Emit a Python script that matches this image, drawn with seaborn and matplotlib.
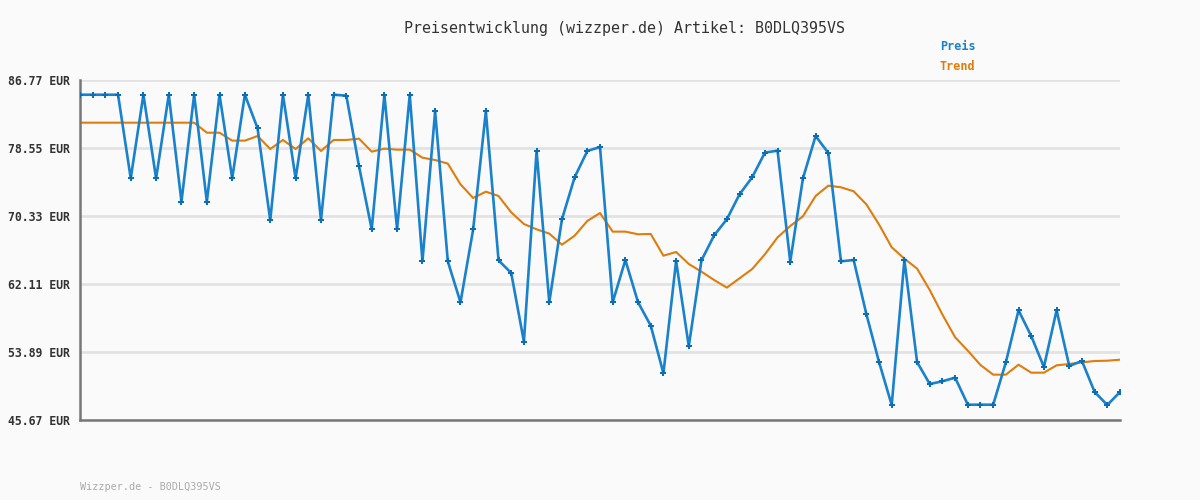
import matplotlib
matplotlib.use("Agg")
import matplotlib.pyplot as plt
import seaborn as sns
import pandas as pd
import numpy as np

title = "Preisentwicklung (wizzper.de) Artikel: B0DLQ395VS"
footer = "Wizzper.de - B0DLQ395VS"
ytick_values = [45.67, 53.89, 62.11, 70.33, 78.55, 86.77]
ytick_labels = ["45.67 EUR", "53.89 EUR", "62.11 EUR", "70.33 EUR", "78.55 EUR", "86.77 EUR"]

preis = [84.99, 84.99, 84.99, 84.99, 74.88, 84.99, 74.88, 84.99, 72.06, 84.99,
         72.06, 84.99, 74.88, 84.99, 80.93, 69.81, 84.99, 74.88, 84.99, 69.81,
         84.99, 84.88, 76.33, 68.72, 84.99, 68.72, 84.99, 64.85, 82.98, 64.85,
         59.90, 68.72, 82.98, 64.97, 63.44, 55.14, 78.19, 59.90, 69.93, 75.01,
         78.19, 78.67, 59.90, 65.01, 59.90, 57.08, 51.32, 64.89, 54.58, 64.97,
         67.99, 69.93, 72.95, 75.01, 77.99, 78.23, 64.81, 74.88, 80.00, 77.95,
         64.85, 65.01, 58.48, 52.68, 47.48, 65.01, 52.68, 50.02, 50.35, 50.79,
         47.52, 47.52, 47.52, 52.64, 58.93, 55.82, 52.08, 58.93, 52.20, 52.80,
         49.06, 47.48, 49.06]

trend = [81.61, 81.61, 81.61, 81.61, 81.61, 81.61, 81.61, 81.61, 81.61, 81.61,
         80.40, 80.40, 79.44, 79.44, 80.00, 78.43, 79.52, 78.43, 79.72, 78.19,
         79.52, 79.52, 79.68, 78.11, 78.47, 78.35, 78.35, 77.38, 77.10, 76.66,
         74.16, 72.51, 73.27, 72.75, 70.77, 69.36, 68.72, 68.20, 66.86, 67.95,
         69.73, 70.69, 68.44, 68.44, 68.12, 68.16, 65.53, 65.98, 64.53, 63.60,
         62.59, 61.67, 62.80, 63.92, 65.70, 67.75, 69.12, 70.29, 72.75, 74.00,
         73.80, 73.32, 71.74, 69.30, 66.55, 65.17, 63.97, 61.38, 58.41, 55.67,
         54.05, 52.32, 51.15, 51.15, 52.36, 51.39, 51.39, 52.28, 52.44, 52.64,
         52.80, 52.84, 52.96]

blue = "#1a82cc"
orange = "#e07c0c"
bg = "#fafafa"

sns.set_style("white", {"axes.facecolor": bg, "figure.facecolor": bg})
plt.rcParams["font.family"] = ["DejaVu Sans Mono", "DejaVu Sans"]

df = pd.DataFrame({"idx": np.arange(len(preis)), "Preis": preis, "Trend": trend})

fig = plt.figure(figsize=(12, 5), dpi=100)
ax = fig.add_axes([80/1200, 80/500, 1040/1200, 340/500])
ax.set_facecolor(bg)

for v in ytick_values:
    ax.axhline(v, color="#e3e3e3", lw=2, zorder=0)

sns.lineplot(data=df, x="idx", y="Trend", ax=ax, color=orange, lw=1.5, zorder=2)
sns.lineplot(data=df, x="idx", y="Preis", ax=ax, color=blue, lw=1.9, zorder=3,
             marker="P", markersize=4.2, markeredgewidth=0, markerfacecolor="#0b6fb8")

ax.set_xlim(0, len(preis) - 1)
ax.set_ylim(45.67, 86.77)
ax.set_xticks([])
ax.set_yticks(ytick_values)
ax.set_yticklabels(ytick_labels, fontsize=8.3, color="#333333", fontweight="bold")
ax.tick_params(axis="y", length=0, pad=7)
ax.set_xlabel("")
ax.set_ylabel("")
for s in ["top", "right"]:
    ax.spines[s].set_visible(False)
for s in ["left", "bottom"]:
    ax.spines[s].set_color("#777777")
    ax.spines[s].set_linewidth(1.8)

fig.text(624/1200, 1 - 28/500, title, ha="center", va="center", fontsize=10.8, color="#333333")
fig.text(940/1200, 1 - 47/500, "Preis", ha="left", va="center", fontsize=8.5, color=blue, fontweight="bold")
fig.text(940/1200, 1 - 67/500, "Trend", ha="left", va="center", fontsize=8.5, color=orange, fontweight="bold")
fig.text(80/1200, 1 - 487/500, footer, ha="left", va="center", fontsize=7.3, color="#aaaaaa")

fig.savefig("out.png", dpi=100, facecolor=bg)
